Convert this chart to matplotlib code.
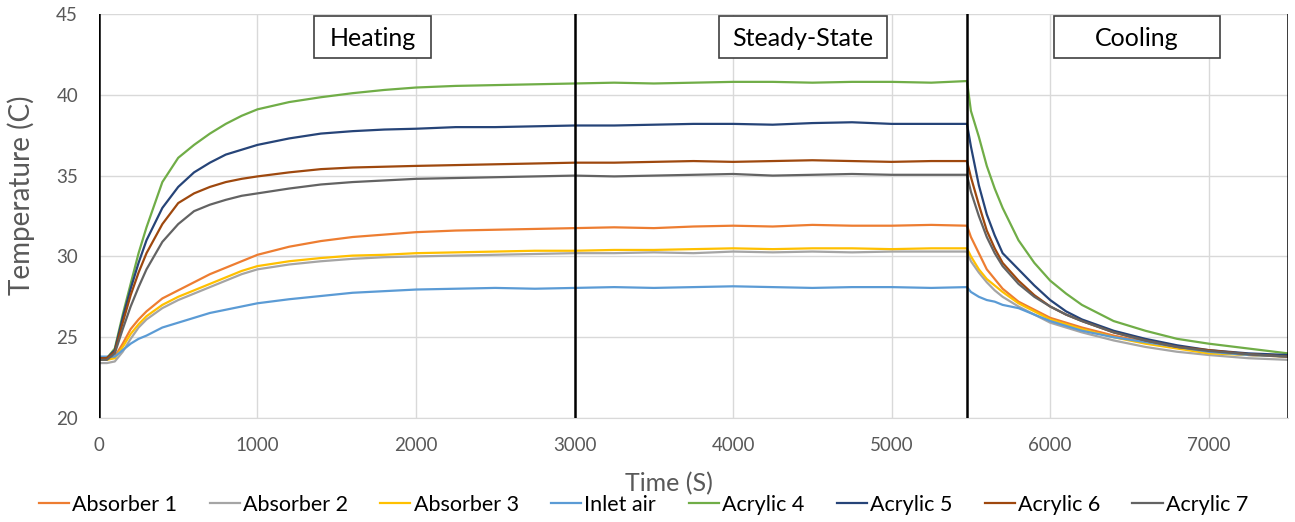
import numpy as np
import matplotlib.pyplot as plt
from matplotlib.patches import Rectangle

# time axis (s)
time_s = [0, 50, 100, 150, 200, 250, 300, 400, 500, 600, 700, 800, 900, 1000,
          1200, 1400, 1600, 1800, 2000, 2250, 2500, 2750, 3000, 3250, 3500,
          3750, 4000, 4250, 4500, 4750, 5000, 5250, 5475, 5500, 5550, 5600,
          5650, 5700, 5800, 5900, 6000, 6100, 6200, 6400, 6600, 6800, 7000,
          7250, 7500]

absorber1 = [23.7, 23.7, 23.8, 24.6, 25.5, 26.1, 26.6, 27.4, 27.9, 28.4, 28.9, 29.3, 29.7, 30.1,
             30.6, 30.95, 31.2, 31.35, 31.5, 31.6, 31.65, 31.7, 31.75, 31.8, 31.75,
             31.85, 31.9, 31.85, 31.95, 31.9, 31.9, 31.95, 31.9, 31.2, 30.2, 29.2,
             28.6, 28.0, 27.2, 26.7, 26.2, 25.9, 25.6, 25.1, 24.7, 24.4, 24.1,
             23.9, 23.8]
absorber2 = [23.4, 23.4, 23.5, 24.1, 24.9, 25.6, 26.1, 26.8, 27.3, 27.7, 28.1, 28.5, 28.9, 29.2,
             29.5, 29.7, 29.85, 29.95, 30.0, 30.05, 30.1, 30.15, 30.2, 30.2, 30.25,
             30.2, 30.3, 30.25, 30.3, 30.25, 30.3, 30.3, 30.3, 29.7, 29.0, 28.4,
             27.9, 27.5, 26.9, 26.4, 25.9, 25.6, 25.3, 24.8, 24.4, 24.1, 23.9,
             23.7, 23.6]
absorber3 = [23.6, 23.6, 23.7, 24.4, 25.2, 25.8, 26.3, 27.0, 27.5, 27.9, 28.3, 28.7, 29.1, 29.4,
             29.7, 29.9, 30.05, 30.1, 30.2, 30.25, 30.3, 30.35, 30.35, 30.4, 30.4,
             30.45, 30.5, 30.45, 30.5, 30.5, 30.45, 30.5, 30.5, 30.0, 29.2, 28.6,
             28.2, 27.8, 27.1, 26.6, 26.1, 25.8, 25.5, 25.0, 24.6, 24.3, 24.0,
             23.9, 23.8]
inlet_air = [23.8, 23.8, 23.8, 24.2, 24.6, 24.9, 25.1, 25.6, 25.9, 26.2, 26.5, 26.7, 26.9, 27.1,
             27.35, 27.55, 27.75, 27.85, 27.95, 28.0, 28.05, 28.0, 28.05, 28.1, 28.05,
             28.1, 28.15, 28.1, 28.05, 28.1, 28.1, 28.05, 28.1, 27.8, 27.5, 27.3,
             27.2, 27.0, 26.8, 26.4, 26.0, 25.7, 25.4, 25.0, 24.7, 24.4, 24.1,
             23.9, 23.8]
acrylic4 = [23.7, 23.7, 24.3, 26.4, 28.3, 30.2, 31.8, 34.6, 36.1, 36.9, 37.6, 38.2, 38.7, 39.1,
            39.55, 39.85, 40.1, 40.3, 40.45, 40.55, 40.6, 40.65, 40.7, 40.75, 40.7,
            40.75, 40.8, 40.8, 40.75, 40.8, 40.8, 40.75, 40.85, 39.0, 37.4, 35.6,
            34.2, 33.0, 31.0, 29.6, 28.5, 27.7, 27.0, 26.0, 25.4, 24.9, 24.6,
            24.3, 24.0]
acrylic5 = [23.7, 23.7, 24.2, 26.2, 28.0, 29.6, 31.0, 33.0, 34.3, 35.2, 35.8, 36.3, 36.6, 36.9,
            37.3, 37.6, 37.75, 37.85, 37.9, 38.0, 38.0, 38.05, 38.1, 38.1, 38.15,
            38.2, 38.2, 38.15, 38.25, 38.3, 38.2, 38.2, 38.2, 36.8, 34.4, 32.6,
            31.3, 30.2, 29.2, 28.2, 27.3, 26.6, 26.1, 25.4, 24.9, 24.5, 24.2,
            24.0, 23.9]
acrylic6 = [23.7, 23.7, 24.1, 25.9, 27.6, 29.0, 30.2, 32.0, 33.3, 33.9, 34.3, 34.6, 34.8, 34.95,
            35.2, 35.4, 35.5, 35.55, 35.6, 35.65, 35.7, 35.75, 35.8, 35.8, 35.85,
            35.9, 35.85, 35.9, 35.95, 35.9, 35.85, 35.9, 35.9, 34.9, 33.2, 31.6,
            30.5, 29.6, 28.5, 27.6, 26.9, 26.4, 26.0, 25.3, 24.8, 24.4, 24.2,
            23.95, 23.8]
acrylic7 = [23.6, 23.6, 24.0, 25.5, 26.9, 28.1, 29.2, 30.9, 32.0, 32.8, 33.2, 33.5, 33.75, 33.9,
            34.2, 34.45, 34.6, 34.7, 34.8, 34.85, 34.9, 34.95, 35.0, 34.95, 35.0,
            35.05, 35.1, 35.0, 35.05, 35.1, 35.05, 35.05, 35.05, 34.0, 32.5, 31.2,
            30.2, 29.4, 28.3, 27.5, 26.9, 26.4, 26.0, 25.3, 24.8, 24.4, 24.15,
            23.95, 23.8]

series = [
    ('Absorber 1', absorber1, '#ED7D31'),
    ('Absorber 2', absorber2, '#A5A5A5'),
    ('Absorber 3', absorber3, '#FFC000'),
    ('Inlet air', inlet_air, '#5B9BD5'),
    ('Acrylic 4', acrylic4, '#70AD47'),
    ('Acrylic 5', acrylic5, '#264478'),
    ('Acrylic 6', acrylic6, '#9E480E'),
    ('Acrylic 7', acrylic7, '#636363'),
]

phase_lines = [0, 3000, 5475, 7500]
phase_boxes = [('Heating', 1357, 2096), ('Steady-State', 3914, 4968), ('Cooling', 6023, 7071)]

plt.rcParams['font.family'] = ['Lato', 'DejaVu Sans']

fig = plt.figure(figsize=(12.95, 5.22), dpi=100)
ax = fig.add_axes([0.0764, 0.1992, 0.9182, 0.774])

for name, vals, col in series:
    ax.plot(time_s, vals, color=col, lw=1.6, label=name)

for x in phase_lines:
    ax.axvline(x, color='black', lw=1.8, zorder=5)

for label, x0, x1 in phase_boxes:
    ax.add_patch(Rectangle((x0, 42.25), x1 - x0, 2.6, facecolor='white',
                           edgecolor='#404040', lw=1.2, zorder=6))
    ax.text((x0 + x1) / 2, 43.5, label, ha='center', va='center',
            fontsize=18, color='black', zorder=7)

ax.set_xlim(0, 7500)
ax.set_ylim(20, 45)
ax.set_xticks(np.arange(0, 7001, 1000))
ax.set_yticks(np.arange(20, 46, 5))
ax.grid(True, color='#D9D9D9', lw=1)
ax.set_axisbelow(True)
for s in ['top', 'right', 'left']:
    ax.spines[s].set_visible(False)
ax.spines['bottom'].set_color('#D9D9D9')
ax.tick_params(length=0, labelsize=13.5, labelcolor='#595959')
ax.tick_params(axis='y', pad=15)
ax.tick_params(axis='x', pad=14)

ax.set_xlabel('Time (S)', fontsize=18, color='#595959')
ax.xaxis.set_label_coords(0.4797, -0.133)
ax.set_ylabel('Temperature (C)', fontsize=20, color='#595959')
ax.yaxis.set_label_coords(-0.054, 0.552)

fig.legend(loc='center', bbox_to_anchor=(0.497, 0.033), ncol=8, frameon=False,
           fontsize=15.5, handlelength=1.4, handletextpad=0.15, columnspacing=1.5)

fig.savefig('out.png', dpi=100)
